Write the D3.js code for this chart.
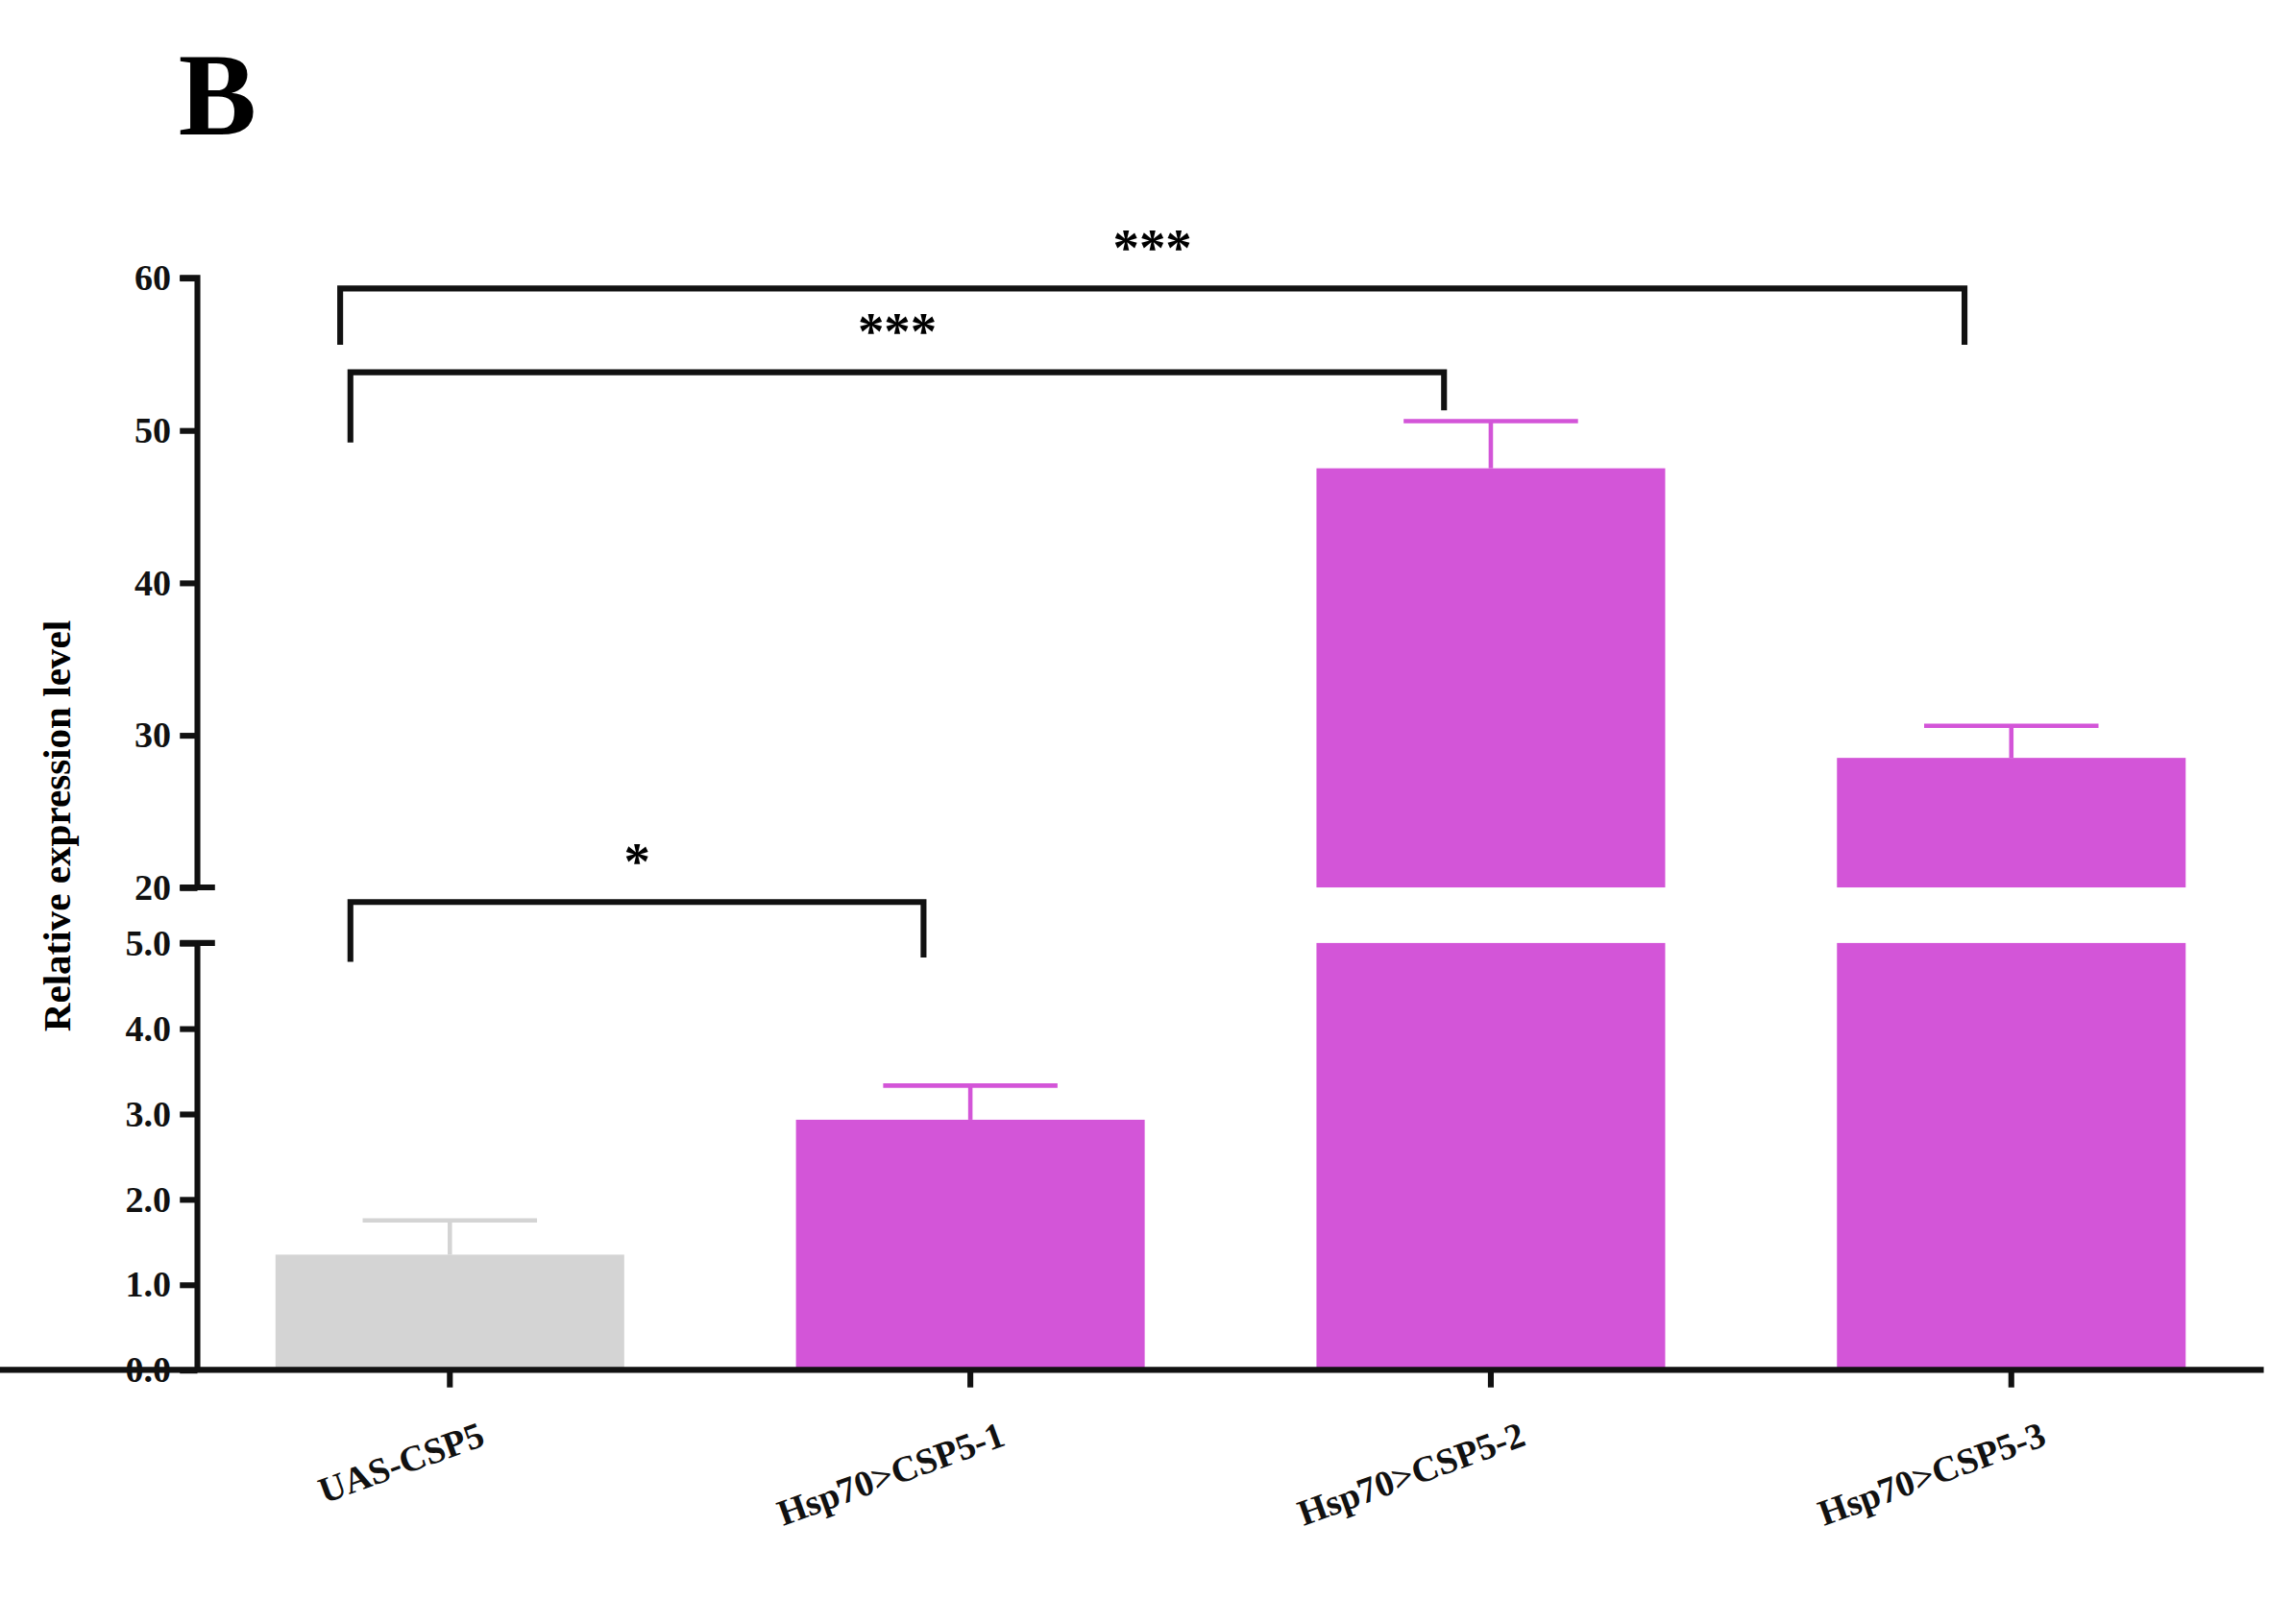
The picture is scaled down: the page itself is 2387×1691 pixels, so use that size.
<!DOCTYPE html>
<html><head><meta charset="utf-8">
<script src="https://cdn.jsdelivr.net/npm/d3@7"></script>
<style>body{margin:0;background:#fff}svg{display:block}</style>
</head><body>
<svg id="chart" width="2387" height="1691"></svg>
<script>
const categories = ["UAS-CSP5", "Hsp70>CSP5-1", "Hsp70>CSP5-2", "Hsp70>CSP5-3"];
const means = [1.35, 2.93, 47.5, 28.5];
const errors = [0.4, 0.4, 3.1, 2.1];
const colors = ["#d4d4d4", "#d355d8", "#d355d8", "#d355d8"];
const topTicks = [20, 30, 40, 50, 60];
const bottomTicks = [0, 1, 2, 3, 4, 5];
// significance brackets: [from, to, segment, bar y, left leg end, right leg end, label]
const brackets = [
  [0, 3, "top", 59.3, 55.6, 55.6, "***"],
  [0, 2, "top", 53.8, 49.2, 51.3, "***"],
  [0, 1, "bot", 5.48, 4.78, 4.83, "*"]
];

const k = 2387 / 1568;
const svg = d3.select("#chart");
const g = svg.append("g").attr("transform", `scale(${k})`);
const font = "'Liberation Serif', 'Times New Roman', serif";

const x = d3.scaleBand().domain(categories).range([135, 1548]).paddingInner(0.33).paddingOuter(0.15);
const yTop = d3.scaleLinear().domain([20, 60]).range([607, 190]);
const yBot = d3.scaleLinear().domain([0, 5]).range([937, 645]);
const seg = s => s === "top" ? yTop : yBot;

g.append("text").attr("x", 122).attr("y", 92).text("B")
  .attr("font-family", font).attr("font-weight", "bold").attr("font-size", 80);

// bars
categories.forEach((c, i) => {
  const v = means[i];
  g.append("rect").attr("x", x(c)).attr("width", x.bandwidth())
    .attr("y", yBot(Math.min(v, 5))).attr("height", yBot(0) - yBot(Math.min(v, 5)))
    .attr("fill", colors[i]);
  if (v > 20) {
    g.append("rect").attr("x", x(c)).attr("width", x.bandwidth())
      .attr("y", yTop(v)).attr("height", yTop(20) - yTop(v)).attr("fill", colors[i]);
  }
  const ys = v > 20 ? yTop : yBot;
  const cx = x(c) + x.bandwidth() / 2;
  const eb = g.append("g").attr("stroke", colors[i]).attr("stroke-width", 3);
  eb.append("line").attr("x1", cx).attr("x2", cx).attr("y1", ys(v)).attr("y2", ys(v + errors[i]));
  eb.append("line").attr("x1", cx - x.bandwidth() / 4).attr("x2", cx + x.bandwidth() / 4)
    .attr("y1", ys(v + errors[i])).attr("y2", ys(v + errors[i]));
});

// axes
const axTop = g.append("g").attr("transform", "translate(135,0)")
  .call(d3.axisLeft(yTop).tickValues(topTicks).tickSize(12).tickPadding(6));
const axBot = g.append("g").attr("transform", "translate(135,0)")
  .call(d3.axisLeft(yBot).tickValues(bottomTicks).tickSize(12).tickPadding(6));
const axX = g.append("g").attr("transform", "translate(0,937)")
  .call(d3.axisBottom(x).tickSize(12).tickPadding(14));
[axTop, axBot, axX].forEach(a => {
  a.selectAll("path").attr("stroke", "#111").attr("stroke-width", 4);
  a.selectAll(".tick line").attr("stroke", "#111").attr("stroke-width", 4);
  a.selectAll("text").attr("font-family", font).attr("font-weight", "bold")
    .attr("font-size", 25).attr("fill", "#111");
});
axTop.select(".domain").attr("d", "M-12,607H12M0,607V190H-12");
axBot.select(".domain").attr("d", "M-12,645H12M0,645V937");
axX.select(".domain").attr("d", "M0,0H1548");
axX.selectAll("text").attr("text-anchor", "end")
  .attr("transform", "translate(10,10) rotate(-20)");

g.append("text").attr("transform", "translate(48,565) rotate(-90)")
  .attr("text-anchor", "middle").text("Relative expression level")
  .attr("font-family", font).attr("font-weight", "bold").attr("font-size", 27);

// brackets
brackets.forEach(([a, b, s, yv, l1, l2, lab], i) => {
  const ys = seg(s);
  const xa = x(categories[a]) + x.bandwidth() / 2 - 75 + (i === 0 ? 0 : 7);
  const xb = x(categories[b]) + x.bandwidth() / 2 - 32;
  g.append("path").attr("fill", "none").attr("stroke", "#111").attr("stroke-width", 4)
    .attr("d", `M${xa},${ys(l1)}V${ys(yv)}H${xb}V${ys(l2)}`);
  g.append("text").attr("x", (xa + xb) / 2).attr("y", ys(yv) - 16)
    .attr("text-anchor", "middle").text(lab)
    .attr("font-family", font).attr("font-weight", "bold").attr("font-size", 36);
});
</script>
</body></html>
